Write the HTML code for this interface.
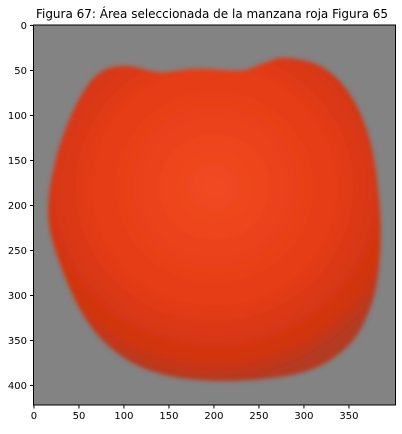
<!DOCTYPE html>
<html><head><meta charset="utf-8"><style>
body{margin:0;background:#fff;width:402px;height:429px;overflow:hidden;font-family:"Liberation Sans","DejaVu Sans",sans-serif}
svg text{font-family:"DejaVu Sans","Liberation Sans",sans-serif;font-size:10px;fill:#000}
</style></head><body>
<svg id="c" width="402" height="429">
<defs>
<radialGradient id="g" cx="0.5" cy="0.4" r="0.6">
<stop offset="0" stop-color="#f24a22"/><stop offset="0.6" stop-color="#e53c16"/><stop offset="0.9" stop-color="#cf3410"/><stop offset="1" stop-color="#b43a22"/>
</radialGradient>
<filter id="b" x="-10%" y="-10%" width="120%" height="120%"><feGaussianBlur stdDeviation="2"/></filter>
</defs>
<text x="212" y="18" text-anchor="middle" style="font-size:12px">Figura 67: Área seleccionada de la manzana roja Figura 65</text>
<rect x="33.5" y="25" width="362" height="380" fill="#838383"/>
<g id="apple" filter="url(#b)"></g>
<rect x="33.5" y="25" width="362" height="380" fill="none" stroke="#000" stroke-width="1"/>
<g id="ax"></g>
</svg>
<script>
const xTicks=[0,50,100,150,200,250,300,350];
const yTicks=[0,50,100,150,200,250,300,350,400];
const outline=[[100,45],[140,52],[180,48],[230,50],[255,42],[280,36],[320,46],[352,78],[374,130],[384,200],[384,260],[375,310],[350,355],[300,385],[215,395],[140,387],[90,362],[55,322],[28,262],[16,210],[24,150],[45,92],[70,55]];
const X=v=>33.5+(v+0.5)*0.9, Y=v=>25+(v+0.5)*0.9;
const ns="http://www.w3.org/2000/svg";
const ax=document.getElementById('ax');
let d="";
const n=outline.length;
for(let i=0;i<n;i++){const p0=outline[(i-1+n)%n],p1=outline[i],p2=outline[(i+1)%n],p3=outline[(i+2)%n];
if(i===0)d+="M"+X(p1[0])+","+Y(p1[1]);
const c1=[p1[0]+(p2[0]-p0[0])/6,p1[1]+(p2[1]-p0[1])/6],c2=[p2[0]-(p3[0]-p1[0])/6,p2[1]-(p3[1]-p1[1])/6];
d+=" C"+X(c1[0])+","+Y(c1[1])+" "+X(c2[0])+","+Y(c2[1])+" "+X(p2[0])+","+Y(p2[1]);}
const p=document.createElementNS(ns,'path');p.setAttribute('d',d+"Z");p.setAttribute('fill','url(#g)');


document.getElementById('apple').appendChild(p);
xTicks.forEach(t=>{const l=document.createElementNS(ns,'line');l.setAttribute('x1',X(t));l.setAttribute('x2',X(t));l.setAttribute('y1',405);l.setAttribute('y2',408.5);l.setAttribute('stroke','#000');


ax.appendChild(l);
const s=document.createElementNS(ns,'text');s.setAttribute('x',X(t));s.setAttribute('y',419);s.setAttribute('text-anchor','middle');s.textContent=t;


ax.appendChild(s);});
yTicks.forEach(t=>{const l=document.createElementNS(ns,'line');l.setAttribute('y1',Y(t));l.setAttribute('y2',Y(t));l.setAttribute('x1',30);l.setAttribute('x2',33.5);l.setAttribute('stroke','#000');


ax.appendChild(l);
const s=document.createElementNS(ns,'text');s.setAttribute('x',27);s.setAttribute('y',Y(t)+3.5);s.setAttribute('text-anchor','end');s.textContent=t;


ax.appendChild(s);});
</script>
</body></html>
